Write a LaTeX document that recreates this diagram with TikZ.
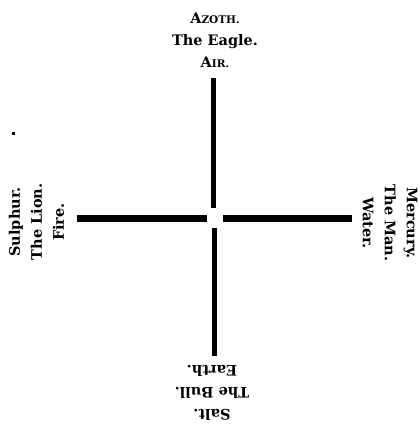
\documentclass[tikz,border=0pt]{standalone}
\usepackage{fontspec}
\setmainfont{DejaVu Serif}
\newcommand\fauxsc[2]{#1{\fontsize{10.5}{10}\selectfont #2}}
\begin{document}
\begin{tikzpicture}[x=1pt,y=-1pt,
  every node/.style={font=\bfseries\fontsize{14.5}{22}\selectfont,align=center,inner sep=0pt},
  vbar/.style={line width=5.5pt},hbar/.style={line width=7pt}]
\useasboundingbox (0,0) rectangle (420,424);
% the four arms of the cross
\coordinate (up1) at (213.5,78);  \coordinate (up2) at (213.5,208);
\coordinate (dn1) at (214.5,228); \coordinate (dn2) at (214.5,356);
\coordinate (lf1) at (77,218.5);  \coordinate (lf2) at (207,218.5);
\coordinate (rt1) at (223,218.5); \coordinate (rt2) at (352,218.5);
\draw[vbar] (up1)--(up2); \draw[vbar] (dn1)--(dn2);
\draw[hbar] (lf1)--(lf2); \draw[hbar] (rt1)--(rt2);
% the four elements
\node (air) at (215,40.5) {\fauxsc{A}{ZOTH.}\\The Eagle.\\\fauxsc{A}{IR.}};
\node[rotate=90] (fire) at (36.5,222) {Sulphur.\\The Lion.\\Fire.};
\node[rotate=-90] (water) at (390,223) {Mercury.\\The Man.\\Water.};
\node[rotate=180] (earth) at (212,392.5) {Salt.\\The Bull.\\Earth.};
\fill (12,132) rectangle (14.5,134.5);
\end{tikzpicture}
\end{document}
